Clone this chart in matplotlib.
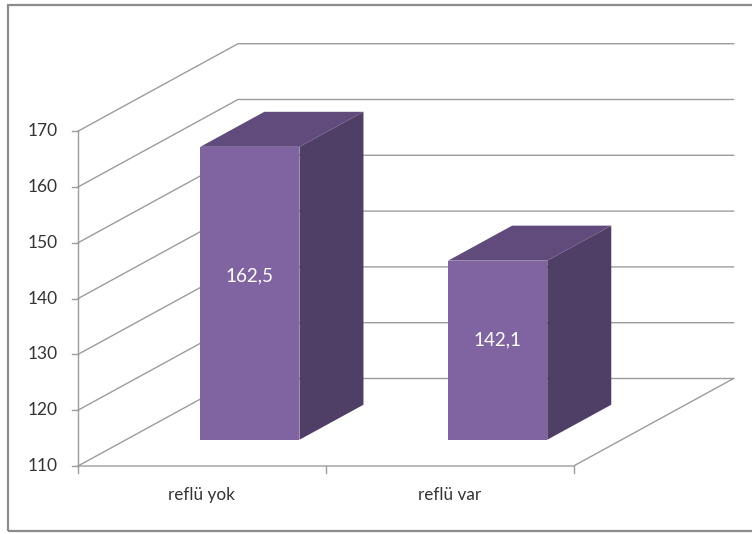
import matplotlib
matplotlib.use("Agg")
import matplotlib.pyplot as plt
from matplotlib.patches import Polygon, Rectangle

# ---- data ----
categories = ["reflü yok", "reflü var"]
values = [162.5, 142.1]
value_labels = ["162,5", "142,1"]
yticks = [110, 120, 130, 140, 150, 160, 170]

# ---- layout / projection (pixel geometry of the 3D box) ----
W, H = 752, 534
X0PX, CATPX = 78.0, 247.8        # front-left x pixel, pixels per category
Y0PX, UNITPX = 466.0, 5.58       # pixel y of base value, pixels per value unit
BASE = 110.0
DEPTH_DX = 160.0 / CATPX         # depth offset in category units
DEPTH_DV = 87.5 / UNITPX         # depth offset in value units


def P(x, v, d):
    return (x + d * DEPTH_DX, v + d * DEPTH_DV)


fig = plt.figure(figsize=(W / 100, H / 100), dpi=100)
ax = fig.add_axes([0, 0, 1, 1])
ax.set_xlim(-X0PX / CATPX, (W - X0PX) / CATPX)
ax.set_ylim(BASE - (H - Y0PX) / UNITPX, BASE + Y0PX / UNITPX)
ax.axis("off")

# outer chart frame
fig.patches.append(Rectangle((8 / W, 3 / H), 760 / W, 526 / H, transform=fig.transFigure,
                             fill=False, edgecolor="#8c8c8c", linewidth=1.6))

grid_c = "#9c9c9c"
lw = 1.0
ncat = len(categories)
top = yticks[-1]
txt_c = "#333333"

# gridlines on left wall and back wall
for v in yticks:
    a = P(0, v, 0); b = P(0, v, 1); c = P(ncat, v, 1)
    ax.plot([a[0], b[0], c[0]], [a[1], b[1], c[1]], color=grid_c, lw=lw, zorder=1,
            solid_joinstyle="miter")
# floor edges
fa = P(0, BASE, 0); fb = P(ncat, BASE, 0); fc = P(ncat, BASE, 1)
ax.plot([fa[0], fb[0], fc[0]], [fa[1], fb[1], fc[1]], color=grid_c, lw=lw, zorder=1)
# value axis line
va = P(0, BASE, 0); vb = P(0, top, 0)
ax.plot([va[0], vb[0]], [va[1], vb[1]], color=grid_c, lw=lw, zorder=1)
# value ticks + labels
tick_len = 6.0 / CATPX
for v in yticks:
    ax.plot([-tick_len, 0], [v, v], color=grid_c, lw=lw, zorder=1)
    ax.text((58 - X0PX) / CATPX, v, str(v), ha="right", va="center",
            fontsize=12.5, color=txt_c, family="Lato")
# category ticks + labels
ctick = 7.0 / UNITPX
for i in range(ncat + 1):
    ax.plot([i, i], [BASE, BASE - ctick], color=grid_c, lw=lw, zorder=1)
for i, cat in enumerate(categories):
    ax.text(i + 0.5, BASE - (495 - Y0PX) / UNITPX, cat, ha="center", va="center",
            fontsize=12.3, color=txt_c, family="Lato")

# bars
front_c, side_c, top_c = "#8064a2", "#4f3e66", "#604b7c"
bw, d0, d1 = 0.4, 0.3, 0.7
for i, v in enumerate(values):
    x0 = i + 0.5 - bw / 2
    x1 = i + 0.5 + bw / 2
    front = [P(x0, BASE, d0), P(x1, BASE, d0), P(x1, v, d0), P(x0, v, d0)]
    side = [P(x1, BASE, d0), P(x1, BASE, d1), P(x1, v, d1), P(x1, v, d0)]
    topf = [P(x0, v, d0), P(x1, v, d0), P(x1, v, d1), P(x0, v, d1)]
    ax.add_patch(Polygon(side, closed=True, facecolor=side_c, edgecolor="none", zorder=3))
    ax.add_patch(Polygon(topf, closed=True, facecolor=top_c, edgecolor="none", zorder=3))
    ax.add_patch(Polygon(front, closed=True, facecolor=front_c, edgecolor="none", zorder=4))
    lx, ly = P(i + 0.5, BASE + 0.56 * (v - BASE), d0)
    ax.text(lx, ly, value_labels[i], ha="center", va="center", fontsize=13.5,
            color="white", family="Lato", zorder=5)

fig.savefig("out.png", dpi=100)
